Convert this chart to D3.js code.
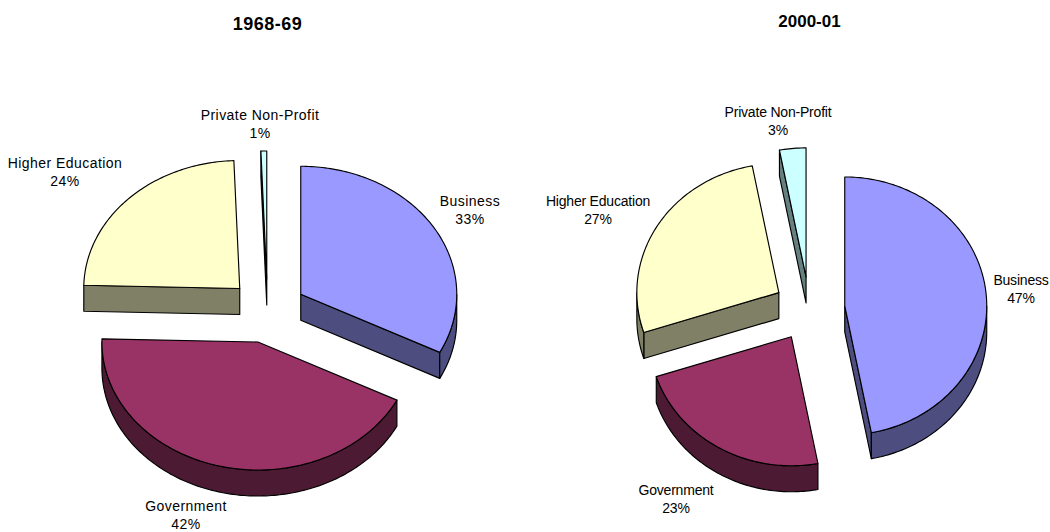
<!DOCTYPE html>
<html><head><meta charset="utf-8">
<style>html,body{margin:0;padding:0;background:#fff;overflow:hidden}svg{display:block}text{font-family:"Liberation Sans",Arial,sans-serif;fill:#000}</style>
<script src="https://cdn.jsdelivr.net/npm/d3@7/dist/d3.min.js"></script>
</head><body><svg id="c" width="1050" height="532"></svg>
<script>
const categories = ["Business","Government","Higher Education","Private Non-Profit"];
const periods = ["1968-69","2000-01"];
const values1968 = [32.5,42.9,24,0.6];
const values2000 = [47,23,27,3];
const percentLabels1968 = ["33%","42%","24%","1%"];
const percentLabels2000 = ["47%","23%","27%","3%"];
const topColors = ["#9999FF","#993366","#FFFFCC","#CCFFFF"];
const sideColors = ["#4D4D80","#4D1A33","#808066","#668080"];

// layout only
const charts = [
 {title:periods[0],values:values1968,pcts:percentLabels1968,cx:267.5,cy:311,rx:156,ry:128,titleX:267.5,titleY:30,titleFs:18,titleLs:0.5,fs:14,ls:0.45,
  labels:[[470,206],[186,511],[65,168],[260,120]]},
 {title:periods[1],values:values2000,pcts:percentLabels2000,cx:809.4,cy:309,rx:142,ry:129,titleX:809.5,titleY:27,titleFs:17,titleLs:0,fs:14,ls:-0.2,
  labels:[[1021,285],[676,495],[598,206],[778,117]]}
];
const explode=0.25, depth=26, lineH=18;
const svg=d3.select("#c");

charts.forEach(ch=>{
  const x=d3.scaleLinear().domain([-1,1]).range([ch.cx-ch.rx,ch.cx+ch.rx]);
  const y=d3.scaleLinear().domain([-1,1]).range([ch.cy-ch.ry,ch.cy+ch.ry]);
  const arcs=d3.pie().sort(null).value(d=>d)(ch.values);
  const g=svg.append("g");
  const line=d3.line().x(d=>d[0]).y(d=>d[1]);
  const draw=(pts,fill)=>g.append("path").attr("d",line(pts)+"Z").attr("fill",fill)
      .attr("stroke","#000").attr("stroke-width",1.15).attr("stroke-linejoin","round");
  const backness=a=>Math.cos((a.startAngle+a.endAngle)/2);
  const order=arcs.map((a,i)=>({a,i})).sort((p,q)=>backness(q.a)-backness(p.a));
  order.forEach(({a,i})=>{
    const mid=(a.startAngle+a.endAngle)/2;
    const ox=explode*Math.sin(mid), oy=-explode*Math.cos(mid);
    const P=(t,r=1,dz=0)=>[x(ox+r*Math.sin(t)),y(oy-r*Math.cos(t))+dz];
    const apex=P(0,0);
    const sample=(t0,t1)=>{const n=Math.max(2,Math.ceil((t1-t0)*180/Math.PI));
      return d3.range(n+1).map(k=>t0+(t1-t0)*k/n);};
    // radial cut walls, only when they face the viewer
    const m=P(mid);
    [a.startAngle,a.endAngle].forEach(t=>{
      const e=P(t), ex=e[0]-apex[0], ey=e[1]-apex[1], mx=m[0]-apex[0], my=m[1]-apex[1];
      if(Math.abs(ex)<1e-6) return;
      if(my<ey/ex*mx) draw([apex,e,[e[0],e[1]+depth],[apex[0],apex[1]+depth]],sideColors[i]);
    });
    // outer rim on the front half
    const r0=Math.max(a.startAngle,Math.PI/2), r1=Math.min(a.endAngle,Math.PI*1.5);
    if(r1>r0){
      const ts=sample(r0,r1);
      draw(ts.map(t=>P(t)).concat(ts.slice().reverse().map(t=>P(t,1,depth))),sideColors[i]);
    }
    // top face
    draw([apex].concat(sample(a.startAngle,a.endAngle).map(t=>P(t))),topColors[i]);
  });
  // labels
  categories.forEach((c,i)=>{
    const [lx,ly]=ch.labels[i];
    const t=svg.append("text").attr("text-anchor","middle").attr("font-size",ch.fs).attr("letter-spacing",ch.ls);
    t.append("tspan").attr("x",lx).attr("y",ly).text(c);
    t.append("tspan").attr("x",lx).attr("y",ly+lineH).text(ch.pcts[i]);
  });
  svg.append("text").attr("x",ch.titleX).attr("y",ch.titleY).attr("text-anchor","middle")
     .attr("font-size",ch.titleFs).attr("letter-spacing",ch.titleLs).attr("font-weight","bold").text(ch.title);
});
</script></body></html>
